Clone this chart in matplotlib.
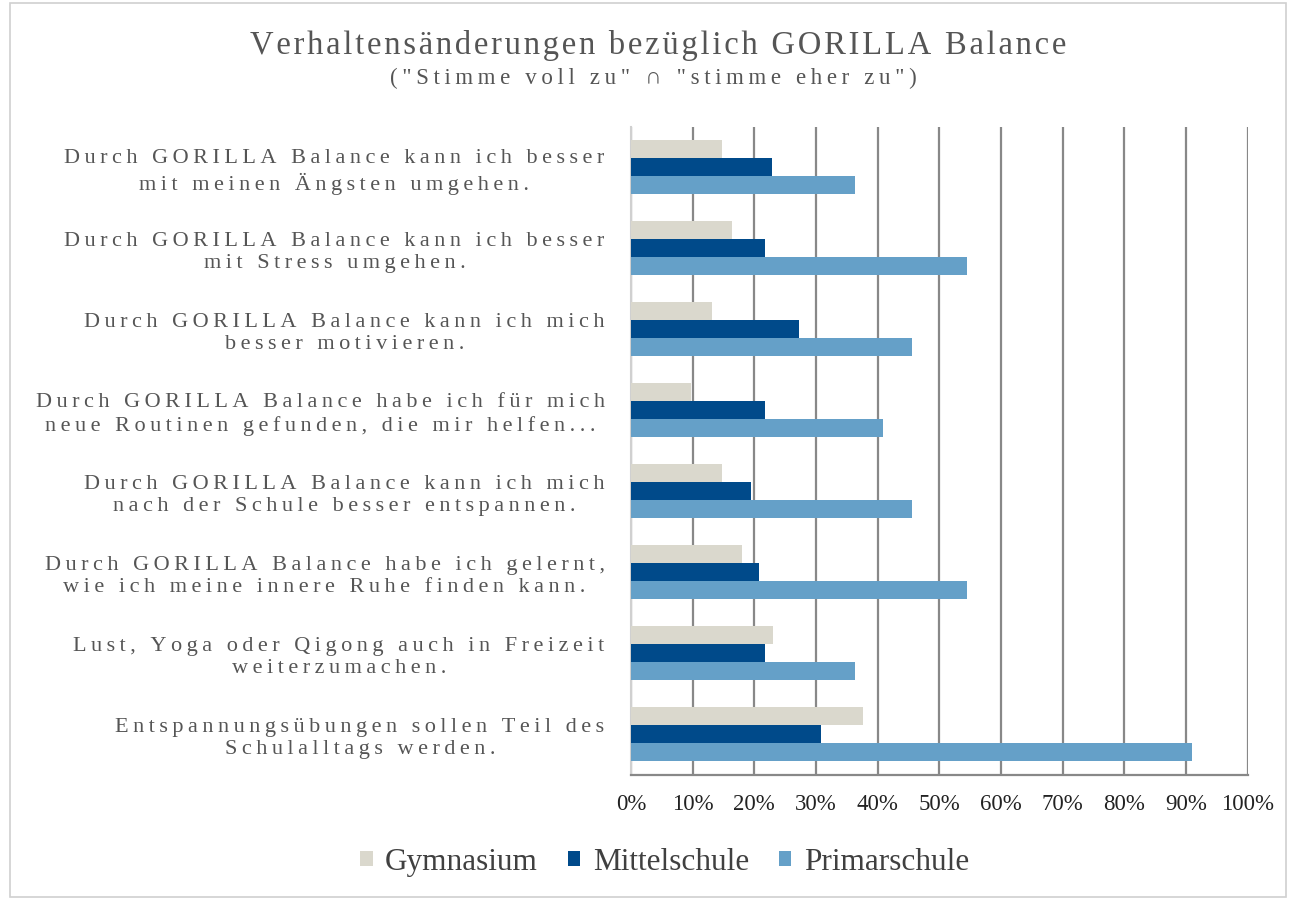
import numpy as np
import matplotlib
matplotlib.use('Agg')
import matplotlib.pyplot as plt
from matplotlib.patches import Rectangle

plt.rcParams['font.family'] = ['Liberation Serif', 'DejaVu Serif']

categories = [
    "Durch GORILLA Balance kann ich besser\nmit meinen Ängsten umgehen.",
    "Durch GORILLA Balance kann ich besser\nmit Stress umgehen.",
    "Durch GORILLA Balance kann ich mich\nbesser motivieren.",
    "Durch GORILLA Balance habe ich für mich\nneue Routinen gefunden, die mir helfen...",
    "Durch GORILLA Balance kann ich mich\nnach der Schule besser entspannen.",
    "Durch GORILLA Balance habe ich gelernt,\nwie ich meine innere Ruhe finden kann.",
    "Lust, Yoga oder Qigong auch in Freizeit\nweiterzumachen.",
    "Entspannungsübungen sollen Teil des\nSchulalltags werden.",
]
series = ["Gymnasium", "Mittelschule", "Primarschule"]
gymnasium = [14.8, 16.4, 13.1, 9.8, 14.8, 18.0, 23.0, 37.7]
mittelschule = [22.8, 21.7, 27.3, 21.7, 19.4, 20.7, 21.7, 30.8]
primarschule = [36.4, 54.5, 45.5, 40.9, 45.5, 54.5, 36.4, 90.9]
colors = ['#dad8cd', '#004a8a', '#65a0c8']


def tracked(s, gap='\u2009'):
    # fake letter spacing: the original chart uses wide character spacing
    return '\n'.join(gap.join(line) for line in s.split('\n'))


fig = plt.figure(figsize=(12.89, 9), dpi=100)
ax = fig.add_axes([0.4895, 0.139, 0.4785, 0.72])

y = np.arange(len(categories))
h = 0.222
for i, (vals, c, name) in enumerate(zip([gymnasium, mittelschule, primarschule], colors, series)):
    ax.barh(y + (i - 1) * h, vals, height=h, color=c, label=name, zorder=3)

ax.set_xlim(0, 100)
ax.set_ylim(len(categories) - 0.5, -0.5)
ax.set_xticks(np.arange(0, 101, 10))
ax.set_xticklabels([f"{v}%" for v in range(0, 101, 10)], fontsize=16.5, color='#222222')
ax.set_yticks(y)
ax.set_yticklabels([tracked(c) for c in categories], fontsize=16, color='#555555',
                   linespacing=1.25, ha='right', multialignment='center')
ax.tick_params(axis='both', length=0)
ax.tick_params(axis='x', pad=14)
ax.tick_params(axis='y', pad=19)
ax.grid(axis='x', color='#888888', linewidth=1.6, zorder=0)
for s in ['top', 'right']:
    ax.spines[s].set_visible(False)
ax.spines['left'].set_color('#d0d0d0')
ax.spines['left'].set_linewidth(1.5)
ax.spines['bottom'].set_color('#888888')
ax.spines['bottom'].set_linewidth(1.6)

fig.text(0.511, 0.949, tracked("Verhaltensänderungen bezüglich GORILLA Balance", '\u200a'),
         ha='center', va='center', fontsize=23.5, color='#555555')
fig.text(0.5065, 0.913, tracked('("Stimme voll zu" ∩ "stimme eher zu")'),
         ha='center', va='center', fontsize=16.5, color='#555555')

ax.legend(loc='center', bbox_to_anchor=(0.5155, 0.042), bbox_transform=fig.transFigure,
          ncol=3, frameon=False, fontsize=22.5, handlelength=0.4, handleheight=0.4,
          handletextpad=0.4, columnspacing=0.95, labelcolor='#404040')

fig.patches.append(Rectangle((0.008, 0.003), 0.99, 0.994, transform=fig.transFigure,
                             fill=False, edgecolor='#d0d0d0', linewidth=1.2))

fig.savefig('out.png', dpi=100)
